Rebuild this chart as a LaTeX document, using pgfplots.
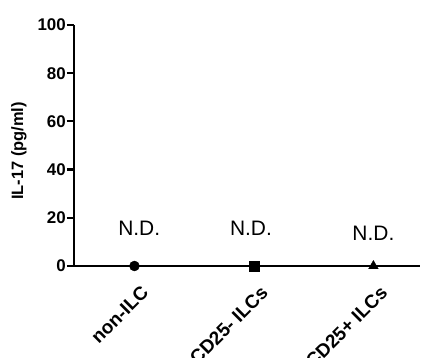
\documentclass[border=0pt]{standalone}
\usepackage{pgfplots}
\pgfplotsset{compat=1.18}
\usepackage{fontspec}
\setmainfont{Liberation Sans}
\begin{document}
\begin{tikzpicture}
\path[use as bounding box] (0,0) rectangle (425bp,358bp);
\begin{axis}[
  at={(74bp,92bp)}, anchor=south west,
  scale only axis, width=346bp, height=241bp,
  xmin=-0.506, xmax=2.39, ymin=0, ymax=100,
  axis x line*=bottom, axis y line*=left,
  axis line style={line width=2.2bp},
  ytick={0,20,40,60,80,100},
  xtick={0,1,2},
  xticklabels={non-ILC, CD25- ILCs, CD25+ ILCs},
  x tick style={draw=none},
  y tick style={line width=2.2bp, black},
  tick align=outside,
  major tick length=7bp,
  /pgf/number format/assume math mode=true,
  yticklabel style={font=\fontsize{17}{20}\selectfont\bfseries, inner sep=1bp},
  xticklabel style={font=\fontsize{19}{20}\selectfont\bfseries, rotate=45, anchor=east, inner sep=0pt, xshift=-4bp, yshift=-19bp},
  ylabel={IL-17 (pg/ml)},
  every axis y label/.style={at={(axis description cs:-0.159,0.477)}, rotate=90, anchor=center, font=\fontsize{16.5}{20}\selectfont\bfseries},
  clip=false,
]
\addplot[only marks, mark=*, mark size=5bp, black] coordinates {(0,0)};
\addplot[only marks, mark=square*, mark size=5bp, black] coordinates {(1,0)};
\addplot[only marks, mark=triangle*, mark size=5.5bp, black] coordinates {(2,0)};
\node[font=\fontsize{21}{24}\selectfont] at (axis cs:0.04,15.8) {N.D.};
\node[font=\fontsize{21}{24}\selectfont] at (axis cs:0.975,15.8) {N.D.};
\node[font=\fontsize{21}{24}\selectfont] at (axis cs:2.0,13.7) {N.D.};
\end{axis}
\end{tikzpicture}
\end{document}
